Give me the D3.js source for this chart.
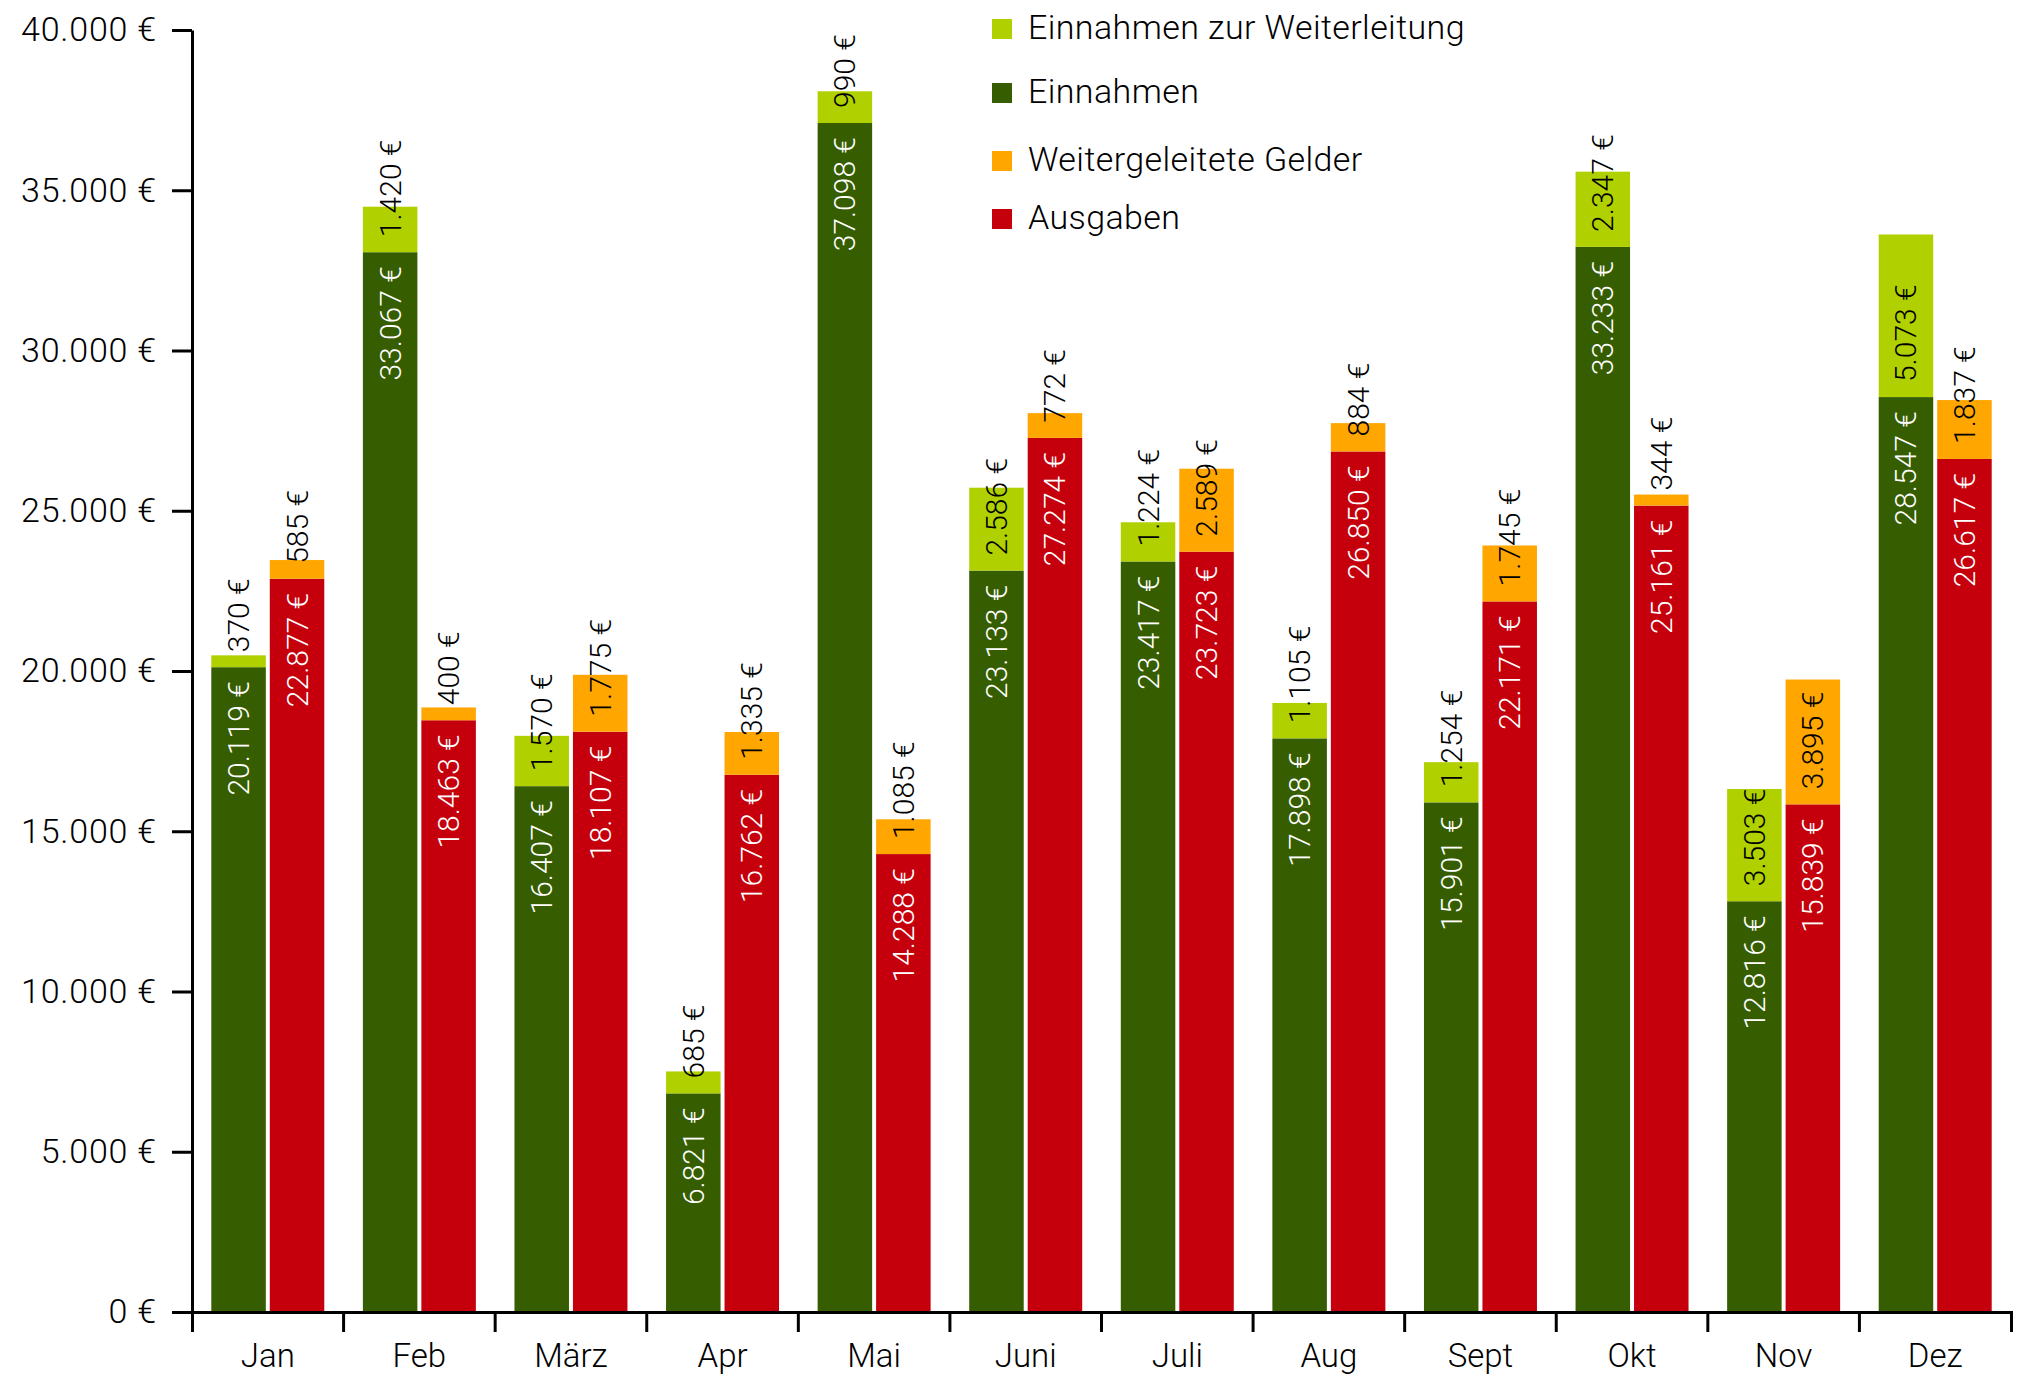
<!DOCTYPE html>
<html>
<head>
<meta charset="utf-8">
<script src="https://cdn.jsdelivr.net/npm/d3@7"></script>
<style>
  html, body { margin: 0; padding: 0; background: #fff; }
  svg { display: block; font-family: Roboto, "Liberation Sans", Arial, sans-serif; font-weight: 300; }
</style>
</head>
<body>
<svg id="chart" width="2025" height="1378"></svg>
<script>
// Monthly cash flow 2-bar groups: income side and spending side
const months = ["Jan", "Feb", "März", "Apr", "Mai", "Juni", "Juli", "Aug", "Sept", "Okt", "Nov", "Dez"];

const einnahmen              = [20119, 33067, 16407, 6821, 37098, 23133, 23417, 17898, 15901, 33233, 12816, 28547];
const einnahmenWeiterleitung = [370, 1420, 1570, 685, 990, 2586, 1224, 1105, 1254, 2347, 3503, 5073];
const ausgaben               = [22877, 18463, 18107, 16762, 14288, 27274, 23723, 26850, 22171, 25161, 15839, 26617];
const weitergeleitet         = [585, 400, 1775, 1335, 1085, 772, 2589, 884, 1745, 344, 3895, 1837];

const yTickValues = [0, 5000, 10000, 15000, 20000, 25000, 30000, 35000, 40000];

const legendLabels = ["Einnahmen zur Weiterleitung", "Einnahmen", "Weitergeleitete Gelder", "Ausgaben"];
const legendKeys   = ["weiterleitung", "einnahmen", "weitergeleitet", "ausgaben"];

const colors = {
  einnahmen: "#365d00",
  weiterleitung: "#b0d000",
  ausgaben: "#c5000c",
  weitergeleitet: "#ffa600"
};

// table used by d3.stack
const rows = months.map((m, i) => ({
  month: m,
  einnahmen: einnahmen[i],
  weiterleitung: einnahmenWeiterleitung[i],
  ausgaben: ausgaben[i],
  weitergeleitet: weitergeleitet[i]
}));

const groups = [
  { id: "in",  keys: ["einnahmen", "weiterleitung"] },
  { id: "out", keys: ["ausgaben", "weitergeleitet"] }
];

const de = d3.formatLocale({ decimal: ",", thousands: ".", grouping: [3], currency: ["", " €"] });
const fmt = de.format("$,d");

const svg = d3.select("#chart");
const plotLeft = 192, plotRight = 2011, plotTop = 30, plotBottom = 1312;

const x0 = d3.scaleBand().domain(months).range([plotLeft, plotRight]);
const x1 = d3.scaleBand().domain(groups.map(g => g.id))
  .range([0, x0.bandwidth()]).paddingInner(0.068).paddingOuter(0.33);
const y = d3.scaleLinear().domain([0, 40000]).range([plotBottom, plotTop]);

// bars
groups.forEach(g => {
  const stacked = d3.stack().keys(g.keys)(rows);
  stacked.forEach(series => {
    svg.append("g").selectAll("rect").data(series).join("rect")
      .attr("x", d => x0(d.data.month) + x1(g.id))
      .attr("width", x1.bandwidth())
      .attr("y", d => y(d[1]))
      .attr("height", d => y(d[0]) - y(d[1]))
      .attr("fill", colors[series.key]);
  });
});

// value labels, rotated to read upwards
groups.forEach(g => {
  const stacked = d3.stack().keys(g.keys)(rows);
  stacked.forEach((series, si) => {
    const isBase = si === 0;
    svg.append("g").selectAll("text").data(series).join("text")
      .attr("transform", d => {
        const cx = x0(d.data.month) + x1(g.id) + x1.bandwidth() / 2;
        const cy = isBase ? y(d[1]) : y(d[0]);
        return `translate(${cx},${cy}) rotate(-90)`;
      })
      .attr("x", isBase ? -14 : 15)
      .attr("dy", "0.35em")
      .attr("text-anchor", isBase ? "end" : "start")
      .attr("font-size", 30)
      .attr("fill", isBase ? "#fff" : "#000")
      .text(d => fmt(d[1] - d[0]));
  });
});

// y axis
const yAxis = svg.append("g")
  .attr("transform", `translate(${plotLeft},0)`)
  .call(d3.axisLeft(y).tickValues(yTickValues).tickFormat(fmt).tickSize(20).tickSizeOuter(0).tickPadding(15));
yAxis.attr("font-family", null);
yAxis.selectAll("text").attr("font-size", 34).attr("letter-spacing", "0.8px").attr("fill", "#000");
yAxis.selectAll("line, path").attr("stroke", "#000").attr("stroke-width", 3);

// x axis: labels centered on the months, ticks on the month boundaries
const xAxis = svg.append("g")
  .attr("transform", `translate(0,${plotBottom})`)
  .call(d3.axisBottom(x0).tickSize(0).tickSizeOuter(20).tickPadding(32));
xAxis.attr("font-family", null);
xAxis.selectAll("text").attr("font-size", 33).attr("fill", "#000");
xAxis.select(".domain").attr("stroke", "#000").attr("stroke-width", 3);
xAxis.selectAll(".boundary").data(months.slice(1)).join("line")
  .attr("class", "boundary")
  .attr("x1", d => x0(d)).attr("x2", d => x0(d))
  .attr("y1", 0).attr("y2", 20)
  .attr("stroke", "#000").attr("stroke-width", 3);

// legend
const legendTops = [19, 83, 151, 209];
const legend = svg.append("g");
legendKeys.forEach((k, i) => {
  legend.append("rect")
    .attr("x", 992).attr("y", legendTops[i])
    .attr("width", 20).attr("height", 20)
    .attr("fill", colors[k]);
  legend.append("text")
    .attr("x", 1028).attr("y", legendTops[i] + 20)
    .attr("font-size", 34)
    .attr("letter-spacing", "0.4px")
    .attr("fill", "#000")
    .text(legendLabels[i]);
});
</script>
</body>
</html>
